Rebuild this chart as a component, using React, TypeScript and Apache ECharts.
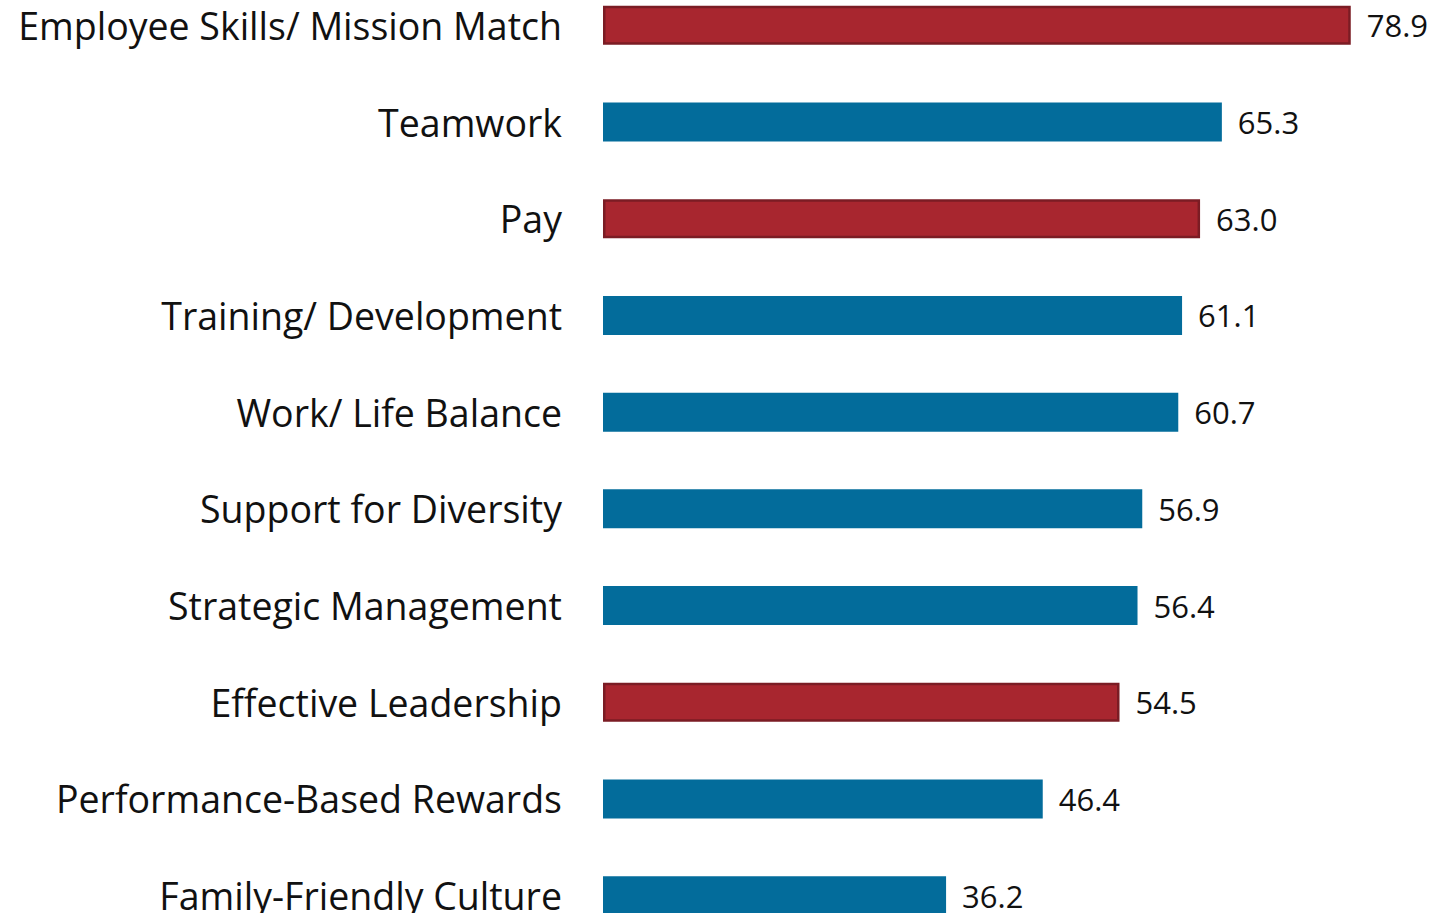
import React, { useEffect, useRef } from "react";
import * as echarts from "echarts";

const categories = [
  "Employee Skills/ Mission Match",
  "Teamwork",
  "Pay",
  "Training/ Development",
  "Work/ Life Balance",
  "Support for Diversity",
  "Strategic Management",
  "Effective Leadership",
  "Performance-Based Rewards",
  "Family-Friendly Culture",
];
const values = [78.9, 65.3, 63.0, 61.1, 60.7, 56.9, 56.4, 54.5, 46.4, 36.2];
const highlighted = [true, false, true, false, false, false, false, true, false, false];

const RED = "#a8262f";
const RED_BORDER = "#7b1c24";
const BLUE = "#036c9b";

export default function App() {
  const ref = useRef<HTMLDivElement>(null);
  useEffect(() => {
    document.body.style.margin = "0";
    document.body.style.overflow = "hidden";
    const chart = echarts.init(ref.current!, null, { renderer: "svg" });
    chart.setOption({
      animation: false,
      backgroundColor: "#ffffff",
      grid: { left: 603, right: 2, top: 0, bottom: 0, containLabel: false },
      xAxis: {
        type: "value",
        min: 0,
        max: 88,
        show: false,
      },
      yAxis: {
        type: "category",
        data: categories,
        inverse: true,
        axisLine: { show: false },
        axisTick: { show: false },
        axisLabel: {
          margin: 41,
          fontFamily: "Open Sans",
          fontSize: 37.5,
          color: "#111111",
        },
      },
      series: [
        {
          type: "bar",
          barWidth: 39,
          data: values.map((v, i) => ({
            value: v,
            itemStyle: highlighted[i]
              ? { color: RED, borderColor: RED_BORDER, borderWidth: 2.5 }
              : { color: BLUE },
          })),
          label: {
            show: true,
            position: "right",
            distance: 16,
            formatter: (p: any) => p.value.toFixed(1),
            fontFamily: "Open Sans",
            fontSize: 31,
            color: "#111111",
          },
        },
      ],
    });
    return () => chart.dispose();
  }, []);
  return (
    <div style={{ width: 1439, height: 913, overflow: "hidden", position: "relative" }}>
      <div ref={ref} style={{ width: 1439, height: 967, position: "absolute", left: 0, top: -23 }} />
    </div>
  );
}
